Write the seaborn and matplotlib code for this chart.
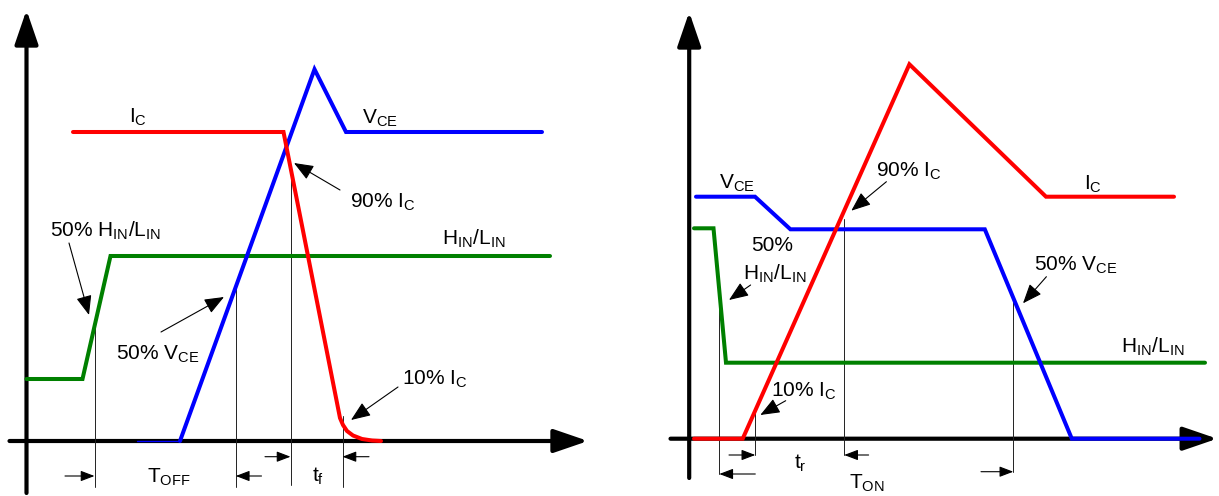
import matplotlib
matplotlib.use("Agg")
import matplotlib.pyplot as plt
import seaborn as sns
import pandas as pd

# ---------------- waveform data (time, amplitude) ----------------
# Left panel: turn-off
off_ic_t = [46.5, 257, 313.5, 316.5, 320.5, 326.5, 335.5, 345.5, 354.5]
off_ic_a = [309, 309, 23, 16, 10, 5.5, 2, 0.5, 0]
off_vce_t = [153.5, 288, 319.5, 515.5]
off_vce_a = [0, 371.7, 309, 309]
off_vce_pre_t = [110, 153.5]
off_vce_pre_a = [0, 0]
off_hin_t = [0, 56, 84, 523.5]
off_hin_a = [62, 62, 185, 185]
off_mark_t = [68, 209.3, 264, 316]
off_mark_top = [123, 155, 276, 25]
off_mark_bot = [-46, -46, -44, -46]

# Right panel: turn-on
on_vce_t = [6.8, 65.8, 101.2, 295.6, 382.6, 510.3]
on_vce_a = [242, 242, 209.4, 209.4, 0, 0]
on_ic_t = [4.8, 53.5, 220.2, 356.8, 484.8]
on_ic_a = [0, 0, 374.4, 242, 242]
on_hin_t = [4.8, 24.3, 36.8, 515.8]
on_hin_a = [210.4, 210.4, 76, 76]
on_mark_t = [30.1, 66.1, 155, 324.1]
on_mark_top = [143.2, 25.7, 220, 141.7]
on_mark_bot = [-35.3, -16.3, -16.3, -33]

# labels: (text, t, a) baseline-left
off_labels = [
    (r"$\mathregular{I_C}$", 102.3, 318.3),
    (r"$\mathregular{V_{CE}}$", 335.8, 317.7),
    (r"90% $\mathregular{I_C}$", 323.5, 233.7),
    (r"50% $\mathregular{H_{IN}/L_{IN}}$", 23.5, 204.3),
    (r"$\mathregular{H_{IN}/L_{IN}}$", 415, 196),
    (r"50% $\mathregular{V_{CE}}$", 89, 81),
    (r"10% $\mathregular{I_C}$", 375.5, 56),
    (r"$\mathregular{T_{OFF}}$", 120.5, -41.3),
    (r"$\mathregular{t_f}$", 285.5, -41),
]
on_labels = [
    (r"$\mathregular{V_{CE}}$", 30.1, 250.4),
    (r"90% $\mathregular{I_C}$", 186.3, 262),
    (r"$\mathregular{I_C}$", 395.1, 248.7),
    (r"50%", 62.1, 187.7),
    (r"$\mathregular{H_{IN}/L_{IN}}$", 53.5, 159.4),
    (r"50% $\mathregular{V_{CE}}$", 344.4, 168),
    (r"$\mathregular{H_{IN}/L_{IN}}$", 431.4, 86),
    (r"10% $\mathregular{I_C}$", 81.6, 42),
    (r"$\mathregular{t_r}$", 104.4, -29.6),
    (r"$\mathregular{T_{ON}}$", 159.9, -50.3),
]
# callout arrows: (tail_t, tail_a, tip_t, tip_a)
off_callouts = [(313.5, 251, 267.5, 278), (42.5, 198, 62.5, 126),
                (134.5, 109, 197.5, 144), (371.5, 54, 324.5, 21)]
on_callouts = [(197.2, 257, 162.1, 228), (61.4, 153.7, 39.8, 138.7),
               (357.2, 162, 333.8, 135.4), (96.5, 38, 71.1, 23.7)]
# dimension arrows: (tail_t, tip_t, a)
off_dims = [(38.5, 68, -35), (235, 209.3, -35), (238.5, 264, -15.7), (342.5, 316, -15.7)]
on_dims = [(39.8, 66.1, -16.3), (66.1, 30.1, -35.3), (179.4, 155, -16.3), (291.8, 324.1, -33)]

RED, BLUE, GREEN = "#FF0000", "#0000FF", "#008000"

sns.set_style("white")
plt.rcParams["font.family"] = ["Liberation Sans", "DejaVu Sans"]
plt.rcParams["mathtext.fontset"] = "custom"
plt.rcParams["mathtext.rm"] = "Liberation Sans"
plt.rcParams["mathtext.it"] = "Liberation Sans"

fig = plt.figure(figsize=(12.19, 4.96), dpi=100)
ax1 = fig.add_axes([0, 0, 609 / 1219, 1])
ax2 = fig.add_axes([609 / 1219, 0, 610 / 1219, 1])
ax1.set_xlim(-26.5, 582.5)
ax1.set_ylim(-55, 441)
ax2.set_xlim(-80.2, 529.8)
ax2.set_ylim(-57.3, 438.7)

FS = 15


def draw_axes(ax, y_bot, y_top, x_left, x_right):
    style = "-|>,head_length=1.05,head_width=0.36"
    ax.annotate("", xy=(0, y_top), xytext=(0, y_bot),
                arrowprops=dict(arrowstyle=style, lw=3, color="black",
                                shrinkA=0, shrinkB=0, mutation_scale=20), zorder=1)
    ax.annotate("", xy=(x_right, 0), xytext=(x_left, 0),
                arrowprops=dict(arrowstyle=style, lw=3, color="black",
                                shrinkA=0, shrinkB=0, mutation_scale=20), zorder=1)


def line(ax, t, a, color, lw=2.9, z=3):
    df = pd.DataFrame({"t": t, "a": a})
    sns.lineplot(data=df, x="t", y="a", sort=False, estimator=None, color=color,
                 lw=lw, ax=ax, zorder=z, solid_capstyle="round", solid_joinstyle="miter")


def decorate(ax, mt, mtop, mbot, labels, callouts, dims):
    for t, top, bot in zip(mt, mtop, mbot):
        ax.plot([t, t], [bot, top], color="#222222", lw=0.7, zorder=2)
    for txt, t, a in labels:
        ax.text(t, a, txt, fontsize=FS, ha="left", va="baseline", color="black", zorder=5)
    for t0, a0, t1, a1 in callouts:
        ax.annotate("", xy=(t1, a1), xytext=(t0, a0),
                    arrowprops=dict(arrowstyle="-|>,head_length=0.6,head_width=0.24",
                                    lw=0.8, color="black", shrinkA=0, shrinkB=0,
                                    mutation_scale=20), zorder=5)
    for t0, t1, a in dims:
        ax.annotate("", xy=(t1, a), xytext=(t0, a),
                    arrowprops=dict(arrowstyle="-|>,head_length=0.42,head_width=0.16",
                                    lw=0.8, color="black", shrinkA=0, shrinkB=0,
                                    mutation_scale=20), zorder=5)


# left panel
draw_axes(ax1, -52, 431, -17, 561.5)
line(ax1, off_hin_t, off_hin_a, GREEN, z=3)
line(ax1, off_vce_pre_t, off_vce_pre_a, BLUE, lw=1.0, z=3)
line(ax1, off_vce_t, off_vce_a, BLUE, z=3.1)
line(ax1, off_ic_t, off_ic_a, RED, z=3.2)
decorate(ax1, off_mark_t, off_mark_top, off_mark_bot, off_labels, off_callouts, off_dims)

# right panel
draw_axes(ax2, -39.3, 426.7, -18.7, 528)
line(ax2, on_hin_t, on_hin_a, GREEN, z=3)
line(ax2, on_vce_t, on_vce_a, BLUE, z=3.1)
line(ax2, on_ic_t, on_ic_a, RED, z=3.2)
decorate(ax2, on_mark_t, on_mark_top, on_mark_bot, on_labels, on_callouts, on_dims)

for ax in (ax1, ax2):
    ax.set_axis_off()
    ax.set_xlabel("")
    ax.set_ylabel("")

fig.savefig("out.png", dpi=100)
